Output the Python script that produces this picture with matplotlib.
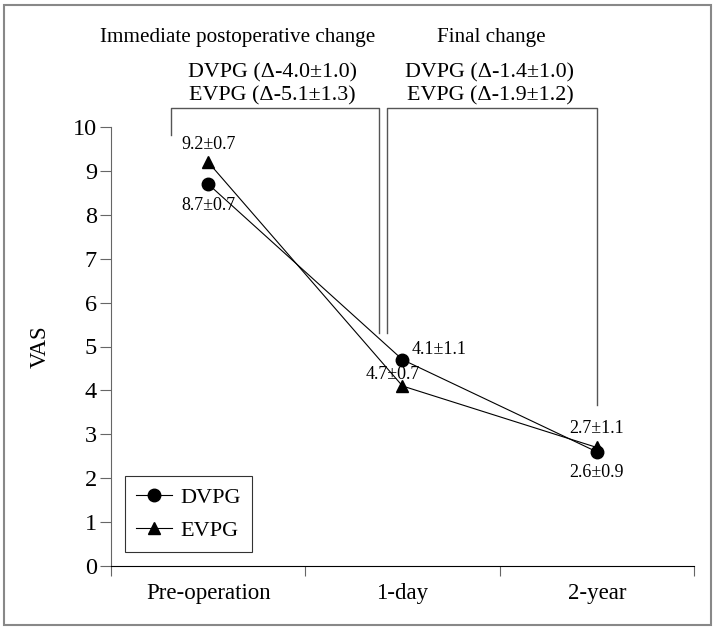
import numpy as np
import matplotlib.pyplot as plt
from matplotlib.patches import Rectangle

plt.rcParams['font.family'] = ['Liberation Serif', 'DejaVu Serif']

# data
categories = ['Pre-operation', '1-day', '2-year']
dvpg = [8.7, 4.7, 2.6]
evpg = [9.2, 4.1, 2.7]
dvpg_labels = ['8.7\u00b10.7', '4.1\u00b11.1', '2.6\u00b10.9']
evpg_labels = ['9.2\u00b10.7', '4.7\u00b10.7', '2.7\u00b11.1']
header_left = ['Immediate postoperative change', 'DVPG (\u0394-4.0\u00b11.0)', 'EVPG (\u0394-5.1\u00b11.3)']
header_right = ['Final change', 'DVPG (\u0394-1.4\u00b11.0)', 'EVPG (\u0394-1.9\u00b11.2)']

fig = plt.figure(figsize=(7.17, 6.3), dpi=100)
ax = fig.add_axes([111/717, 1-566/630, (694-111)/717, (566-127)/630])

x = np.arange(len(categories))
ax.plot(x, dvpg, color='black', lw=0.8, marker='o', ms=9, label='DVPG')
ax.plot(x, evpg, color='black', lw=0.8, marker='^', ms=9, label='EVPG')

ax.set_xlim(-0.5, 2.5)
ax.set_ylim(0, 10)
ax.set_yticks(range(11))
ax.set_xticks([-0.5, 0.5, 1.5, 2.5])
ax.set_xticklabels([])
ax.set_xticks(x, minor=True)
ax.set_xticklabels(categories, minor=True)
ax.tick_params(axis='x', which='minor', length=0, pad=12, labelsize=16.5)
ax.tick_params(axis='x', which='major', length=7, color='#666666')
ax.tick_params(axis='y', length=8, color='#666666', labelsize=17.5, pad=2)
for s in ['top', 'right']:
    ax.spines[s].set_visible(False)
ax.spines['left'].set_color('#666666')
ax.spines['bottom'].set_color('black')
ax.set_ylabel('VAS', fontsize=16.5, labelpad=16)

# point labels
ax.text(0, 9.61, evpg_labels[0], ha='center', va='center', fontsize=13)
ax.text(0, 8.22, dvpg_labels[0], ha='center', va='center', fontsize=13)
ax.text(1.19, 4.94, dvpg_labels[1], ha='center', va='center', fontsize=13)
ax.text(0.95, 4.37, evpg_labels[1], ha='center', va='center', fontsize=13)
ax.text(2.0, 3.14, evpg_labels[2], ha='center', va='center', fontsize=13)
ax.text(2.0, 2.14, dvpg_labels[2], ha='center', va='center', fontsize=13)

# brackets
ax.plot([-0.19, -0.19, 0.879, 0.879], [9.82, 10.43, 10.43, 5.31], color='#555555', lw=1, clip_on=False)
ax.plot([0.920, 0.920, 2.0, 2.0], [5.31, 10.43, 10.43, 3.67], color='#555555', lw=1, clip_on=False)

# headers
ax.text(0.154, 12.05, header_left[0], ha='center', va='center', fontsize=15.2, clip_on=False)
ax.text(1.456, 12.05, header_right[0], ha='center', va='center', fontsize=15.2, clip_on=False)
for txt, xx, yy in [(header_left[1], 0.329, 11.23), (header_left[2], 0.329, 10.70),
                    (header_right[1], 1.45, 11.23), (header_right[2], 1.45, 10.70)]:
    ax.text(xx, yy, txt, ha='center', va='center', fontsize=15.8, clip_on=False)

leg = ax.legend(loc='lower left', bbox_to_anchor=(14/583, 14/439), borderaxespad=0, fontsize=16,
                frameon=True, fancybox=False, edgecolor='black', handlelength=1.6,
                handletextpad=0.4, borderpad=0.5, labelspacing=0.55)
leg.get_frame().set_linewidth(0.8)

fig.patches.append(Rectangle((4/717, 5/630), 707/717, 620/630, transform=fig.transFigure,
                             fill=False, edgecolor='#888888', lw=1.5))

fig.savefig('out.png', dpi=100)
